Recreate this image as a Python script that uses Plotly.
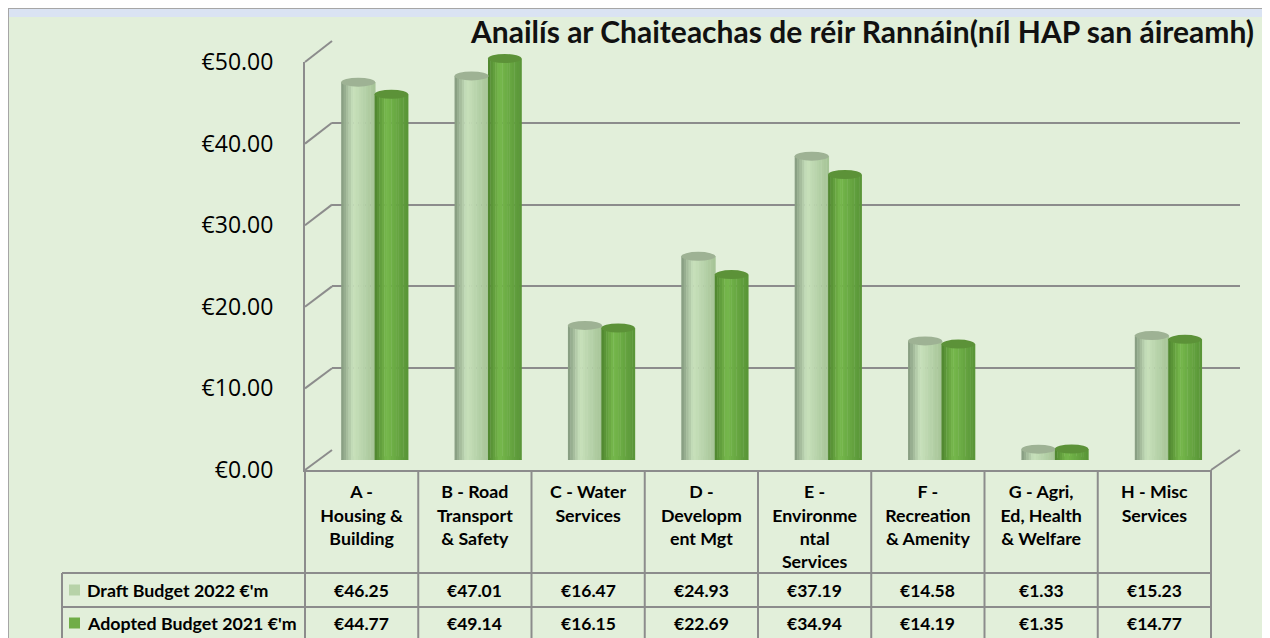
import plotly.graph_objects as go

# ---------------- data ----------------
categories = ["A - Housing & Building", "B - Road Transport & Safety", "C - Water Services",
              "D - Development Mgt", "E - Environmental Services", "F - Recreation & Amenity",
              "G - Agri, Ed, Health & Welfare", "H - Misc Services"]
cat_labels = ["A -<br>Housing &<br>Building", "B - Road<br>Transport<br>& Safety",
              "C - Water<br>Services", "D -<br>Developm<br>ent Mgt",
              "E -<br>Environme<br>ntal<br>Services", "F -<br>Recreation<br>& Amenity",
              "G - Agri,<br>Ed, Health<br>& Welfare", "H - Misc<br>Services"]
draft_2022 = [46.25, 47.01, 16.47, 24.93, 37.19, 14.58, 1.33, 15.23]
adopted_2021 = [44.77, 49.14, 16.15, 22.69, 34.94, 14.19, 1.35, 14.77]
series_names = ["Draft Budget 2022 €'m", "Adopted Budget 2021 €'m"]
y_ticks = [0, 10, 20, 30, 40, 50]
title_text = "Anailís ar Chaiteachas de réir Rannáin(níl HAP san áireamh)"

# ---------------- layout geometry (screen pixels) ----------------
W, H = 1270, 638
OX, OY = 8, 8          # page body offset of the figure
FONT = "Lato"
GRID = "#8C8C8C"
BG = "#E2EFDA"


def px(x):
    return min(max((x - OX) / W, 0), 1)


def py(y):
    return min(max(1 - (y - OY) / H, 0), 1)


FX0, FX1, FY0, FY50 = 305, 1211, 470, 62          # front plane
BX0, BX1, BY0, BY50 = 332, 1240, 450, 41          # back wall
MX0, MX1, MY0, MY50 = 318.5, 1225.5, 460, 51.5    # bar depth
YMAX = 50
n = len(categories)
col_w = (FX1 - FX0) / n


def fy(v):
    return FY0 - v * (FY0 - FY50) / YMAX


def by(v):
    return BY0 - v * (BY0 - BY50) / YMAX


def mix(c1, c2, t):
    return tuple(round(a + (b - a) * t) for a, b in zip(c1, c2))


def cyl_color(left, peak, right, t, tp=0.35):
    if t <= tp:
        c = mix(left, peak, t / tp)
    else:
        c = mix(peak, right, (t - tp) / (1 - tp))
    return "rgb(%d,%d,%d)" % c


fig = go.Figure()

# empty traces to instantiate front and back subplots
fig.add_trace(go.Scatter(x=[], y=[], xaxis="x", yaxis="y", showlegend=False))
fig.add_trace(go.Scatter(x=[], y=[], xaxis="x2", yaxis="y2", showlegend=False))

# cylinders as shaded strips
series = [
    (draft_2022, -0.30, 0.30, (130, 152, 124), (200, 225, 188), (165, 195, 150), "rgb(158,178,148)"),
    (adopted_2021, -0.005, 0.295, (78, 132, 46), (118, 184, 76), (88, 148, 55), "rgb(92,146,56)"),
]
NS = 14
shapes = []
for vals, off, wid, cl, cp, cr, ctop in series:
    sw = wid / NS
    for i in range(NS):
        t = (i + 0.5) / NS
        fig.add_trace(go.Bar(x=categories, y=vals, xaxis="x3", yaxis="y3",
                             width=sw * 1.15, offset=off + i * sw,
                             marker=dict(color=cyl_color(cl, cp, cr, t), line=dict(width=0)),
                             showlegend=False, hoverinfo="skip"))
    for k, v in enumerate(vals):
        shapes.append(dict(type="circle", xref="x3", yref="y3", xsizemode="scaled",
                           ysizemode="pixel", yanchor=0, y0=-4, y1=4,
                           x0=k + off, x1=k + off + wid, layer="below",
                           fillcolor=cyl_color(cl, cp, cr, 0.5), line=dict(width=0)))
        shapes.append(dict(type="circle", xref="x3", yref="y3", xsizemode="scaled",
                           ysizemode="pixel", yanchor=v, y0=-4.5, y1=4.5,
                           x0=k + off, x1=k + off + wid, layer="above",
                           fillcolor=ctop, line=dict(width=0)))

# ---------------- decorative frame ----------------
deco = []
deco.append(dict(type="rect", xref="paper", yref="paper", x0=px(8), x1=px(1264), y0=py(640), y1=py(7),
                 fillcolor=BG, line=dict(width=0), layer="below"))
deco.append(dict(type="rect", xref="paper", yref="paper", x0=px(8), x1=px(1264), y0=py(17), y1=py(7),
                 fillcolor="#DAE3F3", line=dict(width=0), layer="below"))
for xx in (8, 1264):
    deco.append(dict(type="line", xref="paper", yref="paper", x0=px(xx), x1=px(xx), y0=py(640), y1=py(7),
                     line=dict(color="#A6A6A6", width=2), layer="above"))
deco.append(dict(type="line", xref="paper", yref="paper", x0=px(8), x1=px(1264), y0=py(7), y1=py(7),
                 line=dict(color="#A6A6A6", width=2), layer="above"))
# side-wall diagonals
for v in y_ticks:
    deco.append(dict(type="line", xref="paper", yref="paper", x0=px(FX0), y0=py(fy(v)),
                     x1=px(BX0), y1=py(by(v)), line=dict(color=GRID, width=2), layer="below"))
deco.append(dict(type="line", xref="paper", yref="paper", x0=px(FX1), y0=py(FY0),
                 x1=px(BX1), y1=py(BY0), line=dict(color=GRID, width=2), layer="below"))
# table lines
R1, R2, RB = 573, 607, 640
for i in range(n + 1):
    xx = FX0 + i * col_w
    deco.append(dict(type="line", xref="paper", yref="paper", x0=px(xx), x1=px(xx),
                     y0=py(FY0), y1=py(RB), line=dict(color=GRID, width=2), layer="above"))
deco.append(dict(type="line", xref="paper", yref="paper", x0=px(62), x1=px(62),
                 y0=py(R1), y1=py(RB), line=dict(color=GRID, width=2), layer="above"))
for yy in (R1, R2):
    deco.append(dict(type="line", xref="paper", yref="paper", x0=px(62), x1=px(FX1),
                     y0=py(yy), y1=py(yy), line=dict(color=GRID, width=2), layer="above"))
key_cols = ["rgb(183,210,168)", "rgb(112,173,71)"]
row_c = [(R1 + R2) / 2, (R2 + 638) / 2 + 0.5]
for c, yc in zip(key_cols, row_c):
    deco.append(dict(type="rect", xref="paper", yref="paper", x0=px(69), x1=px(80),
                     y0=py(yc + 5.5), y1=py(yc - 5.5), fillcolor=c, line=dict(width=0), layer="above"))

annotations = []
annotations.append(dict(text="<b>" + title_text + "</b>", xref="paper", yref="paper",
                        x=px(1256), y=py(31), xanchor="right", yanchor="middle", showarrow=False,
                        font=dict(family=FONT, size=30, color="#111111")))
for name, yc in zip(series_names, row_c):
    annotations.append(dict(text="<b>" + name + "</b>", xref="paper", yref="paper",
                            x=px(85), y=py(yc), xanchor="left", yanchor="middle", showarrow=False,
                            font=dict(family=FONT, size=17.8, color="#000000")))
for vals, yc in zip((draft_2022, adopted_2021), row_c):
    for k, v in enumerate(vals):
        annotations.append(dict(text="<b>€%.2f</b>" % v, xref="x", yref="paper",
                                x=k, y=py(yc), xanchor="center", yanchor="middle", showarrow=False,
                                font=dict(family=FONT, size=17.5, color="#000000")))

fig.update_layout(
    width=W, height=H,
    margin=dict(l=0, r=0, t=0, b=0, pad=0, autoexpand=False),
    paper_bgcolor="white", plot_bgcolor="rgba(0,0,0,0)",
    barmode="overlay", showlegend=False,
    shapes=deco + shapes,
    annotations=annotations,
    xaxis=dict(domain=[px(FX0), px(FX1)], range=[-0.5, n - 0.5], tickmode="array",
               tickvals=list(range(n)), ticktext=["<b>%s</b>" % t for t in cat_labels],
               tickfont=dict(family=FONT, size=17.8, color="#000000"),
               ticks="outside", ticklen=5, tickcolor="rgba(0,0,0,0)",
               showgrid=False, zeroline=False, showline=True, linecolor=GRID, linewidth=2,
               anchor="y", fixedrange=True, automargin=False),
    yaxis=dict(domain=[py(FY0), py(FY50)], range=[0, YMAX], tickmode="array",
               tickvals=y_ticks, ticktext=["€%.2f" % v for v in y_ticks],
               tickfont=dict(family="Open Sans", size=23, color="#000000"),
               ticks="outside", ticklen=25, tickcolor="rgba(0,0,0,0)",
               showgrid=False, zeroline=False, showline=True, linecolor=GRID, linewidth=2,
               anchor="x", fixedrange=True, automargin=False),
    xaxis2=dict(domain=[px(BX0), px(BX1)], range=[-0.5, n - 0.5], visible=False, anchor="y2",
                automargin=False),
    yaxis2=dict(domain=[py(BY0), py(BY50)], range=[0, YMAX], tickvals=y_ticks, showticklabels=False,
                showgrid=True, gridcolor=GRID, gridwidth=2, zeroline=False, showline=False,
                anchor="x2", ticks="", automargin=False),
    xaxis3=dict(domain=[px(MX0), px(MX1)], type="category", categoryorder="array",
                categoryarray=categories, range=[-0.5, n - 0.5], visible=False, anchor="y3",
                automargin=False),
    yaxis3=dict(domain=[py(MY0), py(MY50)], range=[0, YMAX], visible=False, anchor="x3",
                automargin=False),
)

fig.write_html("out.html")
